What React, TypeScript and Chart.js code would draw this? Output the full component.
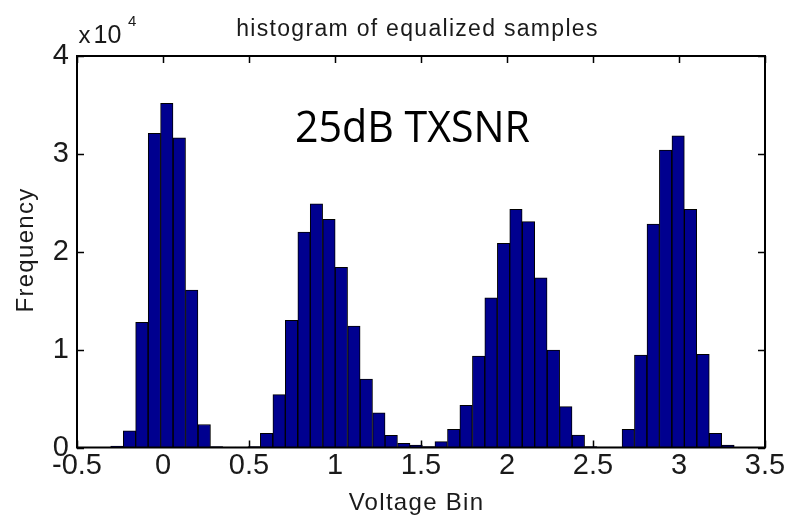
import React, { useEffect, useRef } from "react";
import { Chart, registerables } from "chart.js";

Chart.register(...registerables);

// Histogram bin centers (Voltage Bin) and counts (Frequency)
const binCenters = [
  -0.268, -0.195, -0.123, -0.05, 0.022, 0.095, 0.167, 0.24, 0.312, 0.385,
  0.457, 0.53, 0.602, 0.675, 0.747, 0.82, 0.892, 0.965, 1.037, 1.11,
  1.182, 1.255, 1.327, 1.4, 1.472, 1.545, 1.617, 1.69, 1.762, 1.835,
  1.907, 1.98, 2.052, 2.125, 2.197, 2.27, 2.342, 2.415, 2.487, 2.56,
  2.632, 2.705, 2.777, 2.85, 2.922, 2.995, 3.067, 3.14, 3.212, 3.285,
];
const counts = [
  150, 1700, 12800, 32100, 35160, 31640, 16090, 2350, 100, 40,
  40, 100, 1450, 5400, 13000, 22000, 24900, 23300, 18400, 12400,
  7000, 3550, 1250, 430, 260, 100, 600, 1860, 4310, 9350,
  15300, 20860, 24330, 23070, 17340, 9960, 4170, 1280, 100, 40,
  50, 1860, 9450, 22830, 30390, 31850, 24330, 9520, 1450, 250,
];
const xTickValues = [-0.5, 0, 0.5, 1, 1.5, 2, 2.5, 3, 3.5];
const xTickLabels = ["-0.5", "0", "0.5", "1", "1.5", "2", "2.5", "3", "3.5"];
const yTickValues = [0, 10000, 20000, 30000, 40000];
const yTickLabels = ["0", "1", "2", "3", "4"];

const titleText = "histogram of equalized samples";
const xTitle = "Voltage Bin";
const yTitle = "Frequency";
const annotation = "25dB TXSNR";

const FONT = '"Liberation Sans", Arial, Helvetica, sans-serif';
const TEXT = "#1a1a1a";

const tickPlugin = {
  id: "matlabTicks",
  beforeDatasetsDraw(chart: any) {
    const ctx = chart.ctx;
    const { left, right, top, bottom } = chart.chartArea;
    const xs = chart.scales.x;
    const ys = chart.scales.y;
    const tl = 7;
    ctx.save();
    ctx.strokeStyle = "#000";
    ctx.lineWidth = 1.5;
    ctx.beginPath();
    xTickValues.forEach((v) => {
      const px = Math.round(xs.getPixelForValue(v)) + 0.5;
      ctx.moveTo(px, bottom);
      ctx.lineTo(px, bottom - tl);
      ctx.moveTo(px, top);
      ctx.lineTo(px, top + tl);
    });
    yTickValues.forEach((v) => {
      const py = Math.round(ys.getPixelForValue(v)) + 0.5;
      ctx.moveTo(left, py);
      ctx.lineTo(left + tl, py);
      ctx.moveTo(right, py);
      ctx.lineTo(right - tl, py);
    });
    ctx.stroke();
    ctx.restore();
  },
  afterDraw(chart: any) {
    const ctx = chart.ctx;
    const { left, right, top, bottom } = chart.chartArea;
    ctx.save();
    ctx.strokeStyle = "#000";
    ctx.lineWidth = 2;
    ctx.strokeRect(left, top, right - left, bottom - top);

    ctx.fillStyle = TEXT;
    ctx.textBaseline = "alphabetic";
    try { (ctx as any).letterSpacing = "1.3px"; } catch (e) {}

    // title
    ctx.font = `23px ${FONT}`;
    ctx.textAlign = "center";
    ctx.fillText(titleText, 417.5, 35.5);

    // x axis title
    ctx.font = `24px ${FONT}`;
    ctx.fillText(xTitle, 416.5, 510);

    // y axis title
    ctx.save();
    ctx.translate(33, 250);
    ctx.rotate(-Math.PI / 2);
    ctx.fillText(yTitle, 0, 0);
    ctx.restore();

    try { (ctx as any).letterSpacing = "0px"; } catch (e) {}
    // exponent label
    ctx.textAlign = "left";
    ctx.font = `24px ${FONT}`;
    ctx.fillText("x", 78.5, 43);
    ctx.font = `25px ${FONT}`;
    ctx.fillText("10", 93.5, 43);
    ctx.font = `15px ${FONT}`;
    ctx.fillText("4", 128, 25.5);

    // annotation
    ctx.fillStyle = "#000";
    ctx.font = `44px "Open Sans", "Noto Sans", sans-serif`;
    ctx.textAlign = "left";
    ctx.fillText(annotation, 295, 141.5, 235);
    ctx.restore();
  },
};

export default function App() {
  const canvasRef = useRef<HTMLCanvasElement | null>(null);

  useEffect(() => {
    const canvas = canvasRef.current;
    if (!canvas) return;
    const chart = new Chart(canvas, {
      type: "bar",
      data: {
        datasets: [
          {
            data: binCenters.map((x, i) => ({ x, y: counts[i] })),
            backgroundColor: "#00008F",
            borderColor: "#000000",
            borderWidth: 1,
            barPercentage: 1,
            categoryPercentage: 1,
            grouped: false,
          } as any,
        ],
      },
      options: {
        responsive: false,
        animation: false,
        devicePixelRatio: 1,
        layout: { padding: { top: 56, right: 22, left: 0, bottom: 0 } },
        plugins: {
          legend: { display: false },
          tooltip: { enabled: false },
          title: { display: false },
        },
        scales: {
          x: {
            type: "linear",
            offset: false,
            min: -0.5,
            max: 3.5,
            grid: { display: false, drawTicks: false, offset: false },
            border: { display: false },
            ticks: {
              stepSize: 0.5,
              autoSkip: false,
              maxRotation: 0,
              padding: 1,
              color: TEXT,
              font: { family: FONT, size: 29 },
              callback: (_v: any, i: number) => xTickLabels[i],
            },
            afterFit: (s: any) => {
              s.height = 72.5;
              s.paddingLeft = 0;
              s.paddingRight = 0;
            },
          },
          y: {
            type: "linear",
            min: 0,
            max: 40000,
            grid: { display: false, drawTicks: false },
            border: { display: false },
            ticks: {
              stepSize: 10000,
              padding: 8,
              color: TEXT,
              font: { family: FONT, size: 29 },
              callback: (_v: any, i: number) => yTickLabels[i],
            },
            afterFit: (s: any) => {
              s.width = 77;
              s.paddingTop = 0;
              s.paddingBottom = 0;
            },
          },
        },
      } as any,
      plugins: [tickPlugin],
    });
    return () => chart.destroy();
  }, []);

  return (
    <div style={{ position: "absolute", left: 0, top: 0, width: 787, height: 520, background: "#fff" }}>
      <canvas ref={canvasRef} width={787} height={520} />
    </div>
  );
}
